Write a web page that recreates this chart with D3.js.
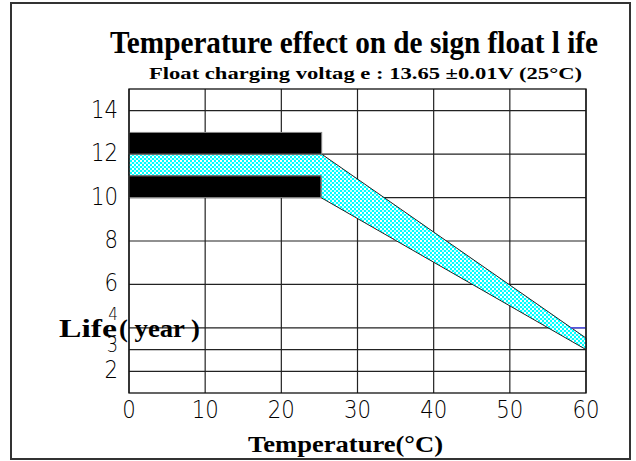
<!DOCTYPE html>
<html><head><meta charset="utf-8">
<script src="https://cdn.jsdelivr.net/npm/d3@7"></script>
<style>html,body{margin:0;padding:0;background:#fff;}</style>
</head><body>
<svg id="c" width="636" height="461"></svg>
<script>
// ---- data ----
const xTicks = [0, 10, 20, 30, 40, 50, 60];
const yTicks = [14, 12, 10, 8, 6, 4, 3, 2];
const titleText = "Temperature effect on de sign float l ife";
const subtitleText = "Float charging voltag e : 13.65 \u00b10.01V (25\u00b0C)";
const xLabel = "Temperature(\u00b0C)";
const yLabelA = "Life";
const yLabelB = "( year )";
// black bands: [tempStart, tempEnd, lifeLow, lifeHigh]
const blackBands = [[0, 25.3, 12, 13], [0, 25.2, 10, 11]];
// cyan band boundaries (temperature, life)
const bandUpper = [[0, 12], [25.3, 12], [60, 3.53]];
const bandLower = [[0, 11], [25.2, 11], [25.2, 10], [60, 3]];
const blueSeg = [[57.9, 4], [60, 4]];

// ---- drawing ----
const svg = d3.select("#c");
const x = d3.scaleLinear().domain([0, 60]).range([129, 586]);
const y = d3.scaleLinear().domain([1, 15]).range([393, 89]);

const defs = svg.append("defs");
const pat = defs.append("pattern").attr("id", "chk").attr("patternUnits", "userSpaceOnUse")
  .attr("width", 4).attr("height", 4);
pat.append("rect").attr("width", 4).attr("height", 4).attr("fill", "#00ffff");
pat.append("rect").attr("x", 0).attr("y", 0).attr("width", 2).attr("height", 2).attr("fill", "#ffffff");
pat.append("rect").attr("x", 2).attr("y", 2).attr("width", 2).attr("height", 2).attr("fill", "#c8ffff");

// outer frame
svg.append("rect").attr("x", 11).attr("y", 3).attr("width", 619).attr("height", 456)
  .attr("fill", "none").attr("stroke", "#333").attr("stroke-width", 2);

// grid
const g = svg.append("g");
g.selectAll("line.h").data(yTicks).join("line")
  .attr("x1", x(0)).attr("x2", x(60)).attr("y1", d => y(d)).attr("y2", d => y(d))
  .attr("stroke", "#222").attr("stroke-width", 1.2);
g.selectAll("line.v").data(xTicks).join("line")
  .attr("y1", y(15)).attr("y2", y(1)).attr("x1", d => x(d)).attr("x2", d => x(d))
  .attr("stroke", "#222").attr("stroke-width", 1.2);

// cyan band
const poly = bandUpper.concat(bandLower.slice().reverse());
svg.append("path")
  .attr("d", d3.line().x(d => x(d[0])).y(d => y(d[1]))(poly) + "Z")
  .attr("fill", "url(#chk)").attr("stroke", "#222").attr("stroke-width", 1);

// black bands
svg.selectAll("rect.bb").data(blackBands).join("rect")
  .attr("x", d => x(d[0])).attr("width", d => x(d[1]) - x(d[0]))
  .attr("y", d => y(d[3])).attr("height", d => y(d[2]) - y(d[3]))
  .attr("fill", "#000").attr("stroke", "#888").attr("stroke-width", 1);

// blue segment
svg.append("path").attr("d", d3.line().x(d => x(d[0])).y(d => y(d[1]))(blueSeg))
  .attr("stroke", "#5555ff").attr("stroke-width", 1.3);

// plot frame
svg.append("rect").attr("x", x(0)).attr("y", y(15)).attr("width", x(60) - x(0)).attr("height", y(1) - y(15))
  .attr("fill", "none").attr("stroke", "#111").attr("stroke-width", 1.3);

// tick labels
const tf = "'DejaVu Sans', sans-serif";
const sx = 0.85;
svg.selectAll("text.xt").data(xTicks).join("text")
  .attr("transform", d => `translate(${x(d)},418) scale(${sx},1)`)
  .attr("text-anchor", "middle").attr("font-family", tf).attr("font-weight", 200)
  .attr("font-size", 25).attr("fill", "#000").text(d => d);
const yOff = {4: -12, 3: -3};
const ySz = {4: 18, 3: 21};
svg.selectAll("text.yt").data(yTicks).join("text")
  .attr("transform", d => `translate(118,${y(d) - 2 + (yOff[d] || 0) + 0.36 * (ySz[d] || 25)}) scale(${sx},1)`)
  .attr("text-anchor", "end").attr("font-family", tf).attr("font-weight", 200)
  .attr("font-size", d => ySz[d] || 25).attr("fill", "#000").text(d => d);

// titles
const sf = "'Liberation Serif', 'Times New Roman', serif";
svg.append("text").attr("transform", "translate(110,53) scale(1,1.1)").attr("font-family", sf).attr("font-weight", "bold")
  .attr("font-size", 28.5).attr("textLength", 488).attr("lengthAdjust", "spacingAndGlyphs").text(titleText);
svg.append("text").attr("x", 149).attr("y", 79).attr("font-family", sf).attr("font-weight", "bold")
  .attr("font-size", 17.5).attr("textLength", 433).attr("lengthAdjust", "spacingAndGlyphs").text(subtitleText);
svg.append("text").attr("x", 248).attr("y", 452).attr("font-family", sf).attr("font-weight", "bold")
  .attr("font-size", 23).attr("textLength", 195).attr("lengthAdjust", "spacingAndGlyphs").text(xLabel);
svg.append("text").attr("x", 59).attr("y", 337).attr("font-family", sf).attr("font-weight", "bold")
  .attr("font-size", 25).attr("textLength", 58).attr("lengthAdjust", "spacingAndGlyphs").text(yLabelA);
svg.append("text").attr("x", 119).attr("y", 337).attr("font-family", sf).attr("font-weight", "bold")
  .attr("font-size", 25).attr("textLength", 81).attr("lengthAdjust", "spacingAndGlyphs").text(yLabelB);
</script>
</body></html>
